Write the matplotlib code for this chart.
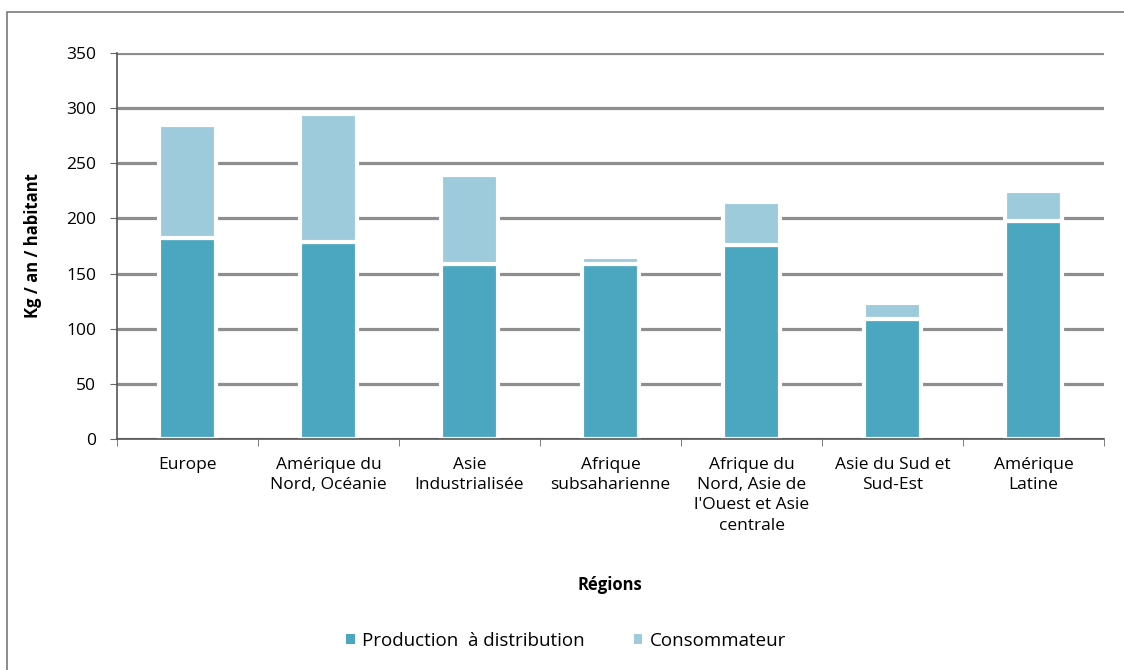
import matplotlib
matplotlib.use('Agg')
import matplotlib.pyplot as plt
from matplotlib.patches import Patch, Rectangle
import numpy as np

plt.rcParams['font.family'] = ['Open Sans', 'DejaVu Sans']

regions = ['Europe', 'Amérique du\nNord, Océanie', 'Asie\nIndustrialisée',
           'Afrique\nsubsaharienne', 'Afrique du\nNord, Asie de\nl\'Ouest et Asie\ncentrale',
           'Asie du Sud et\nSud-Est', 'Amérique\nLatine']
production = [182, 179, 159, 159, 176, 109, 198]
consommateur = [103, 116, 80, 6, 39, 14, 27]
series_names = ['Production  à distribution', 'Consommateur']

dark = '#4ba6bf'
light = '#9ecbdc'
fs = 12.5

fig = plt.figure(figsize=(11.24, 6.70), dpi=100)
ax = fig.add_axes([117/1124, 1 - 439/670, (1104 - 117)/1124, (439 - 53)/670])

# outer frame of the picture
fig.patches.append(Rectangle((7/1124, -0.05), 1.2, 1 - 12/670 + 0.05, transform=fig.transFigure,
                             fill=False, edgecolor='#7a7a7a', linewidth=1.2))

x = np.arange(len(regions))
w = 0.41
ax.bar(x, production, w, color=dark, edgecolor='white', linewidth=3, zorder=2)
ax.bar(x, consommateur, w, bottom=production, color=light, edgecolor='white', linewidth=3, zorder=2)

ax.set_xlim(-0.5, len(regions) - 0.5)
ax.set_ylim(0, 350)
ax.set_yticks(range(0, 351, 50))
ax.yaxis.grid(True, color='#8e8e8e', linewidth=2.3)
ax.set_axisbelow(True)

ax.set_xticks(x)
ax.set_xticklabels(regions, fontsize=fs, linespacing=1.35, va='top')
ax.tick_params(axis='x', length=0, pad=13)
ax.set_xticks(np.arange(-0.5, len(regions)), minor=True)
ax.tick_params(axis='x', which='minor', length=5, color='#666666')
ax.tick_params(axis='y', length=5, color='#666666', labelsize=fs, pad=10)

for s in ['top', 'right']:
    ax.spines[s].set_visible(False)
for s in ['left', 'bottom']:
    ax.spines[s].set_color('#555555')
    ax.spines[s].set_linewidth(1.2)
    ax.spines[s].set_zorder(4)

ax.set_ylabel('Kg / an / habitant', fontsize=12, fontweight='bold')
ax.yaxis.set_label_coords((42 - 117)/987, 0.5)
fig.text(610/1124, 1 - 585/670, 'Régions', fontsize=12, fontweight='bold', ha='center', va='center')

handles = [Patch(facecolor=dark), Patch(facecolor=light)]
fig.legend(handles, series_names, loc='center', bbox_to_anchor=(566/1124, 1 - 641/670), ncol=2,
           frameon=False, fontsize=13.5, handlelength=0.45, handleheight=0.45,
           handletextpad=0.4, columnspacing=2.6)

fig.savefig('out.png', dpi=100)
